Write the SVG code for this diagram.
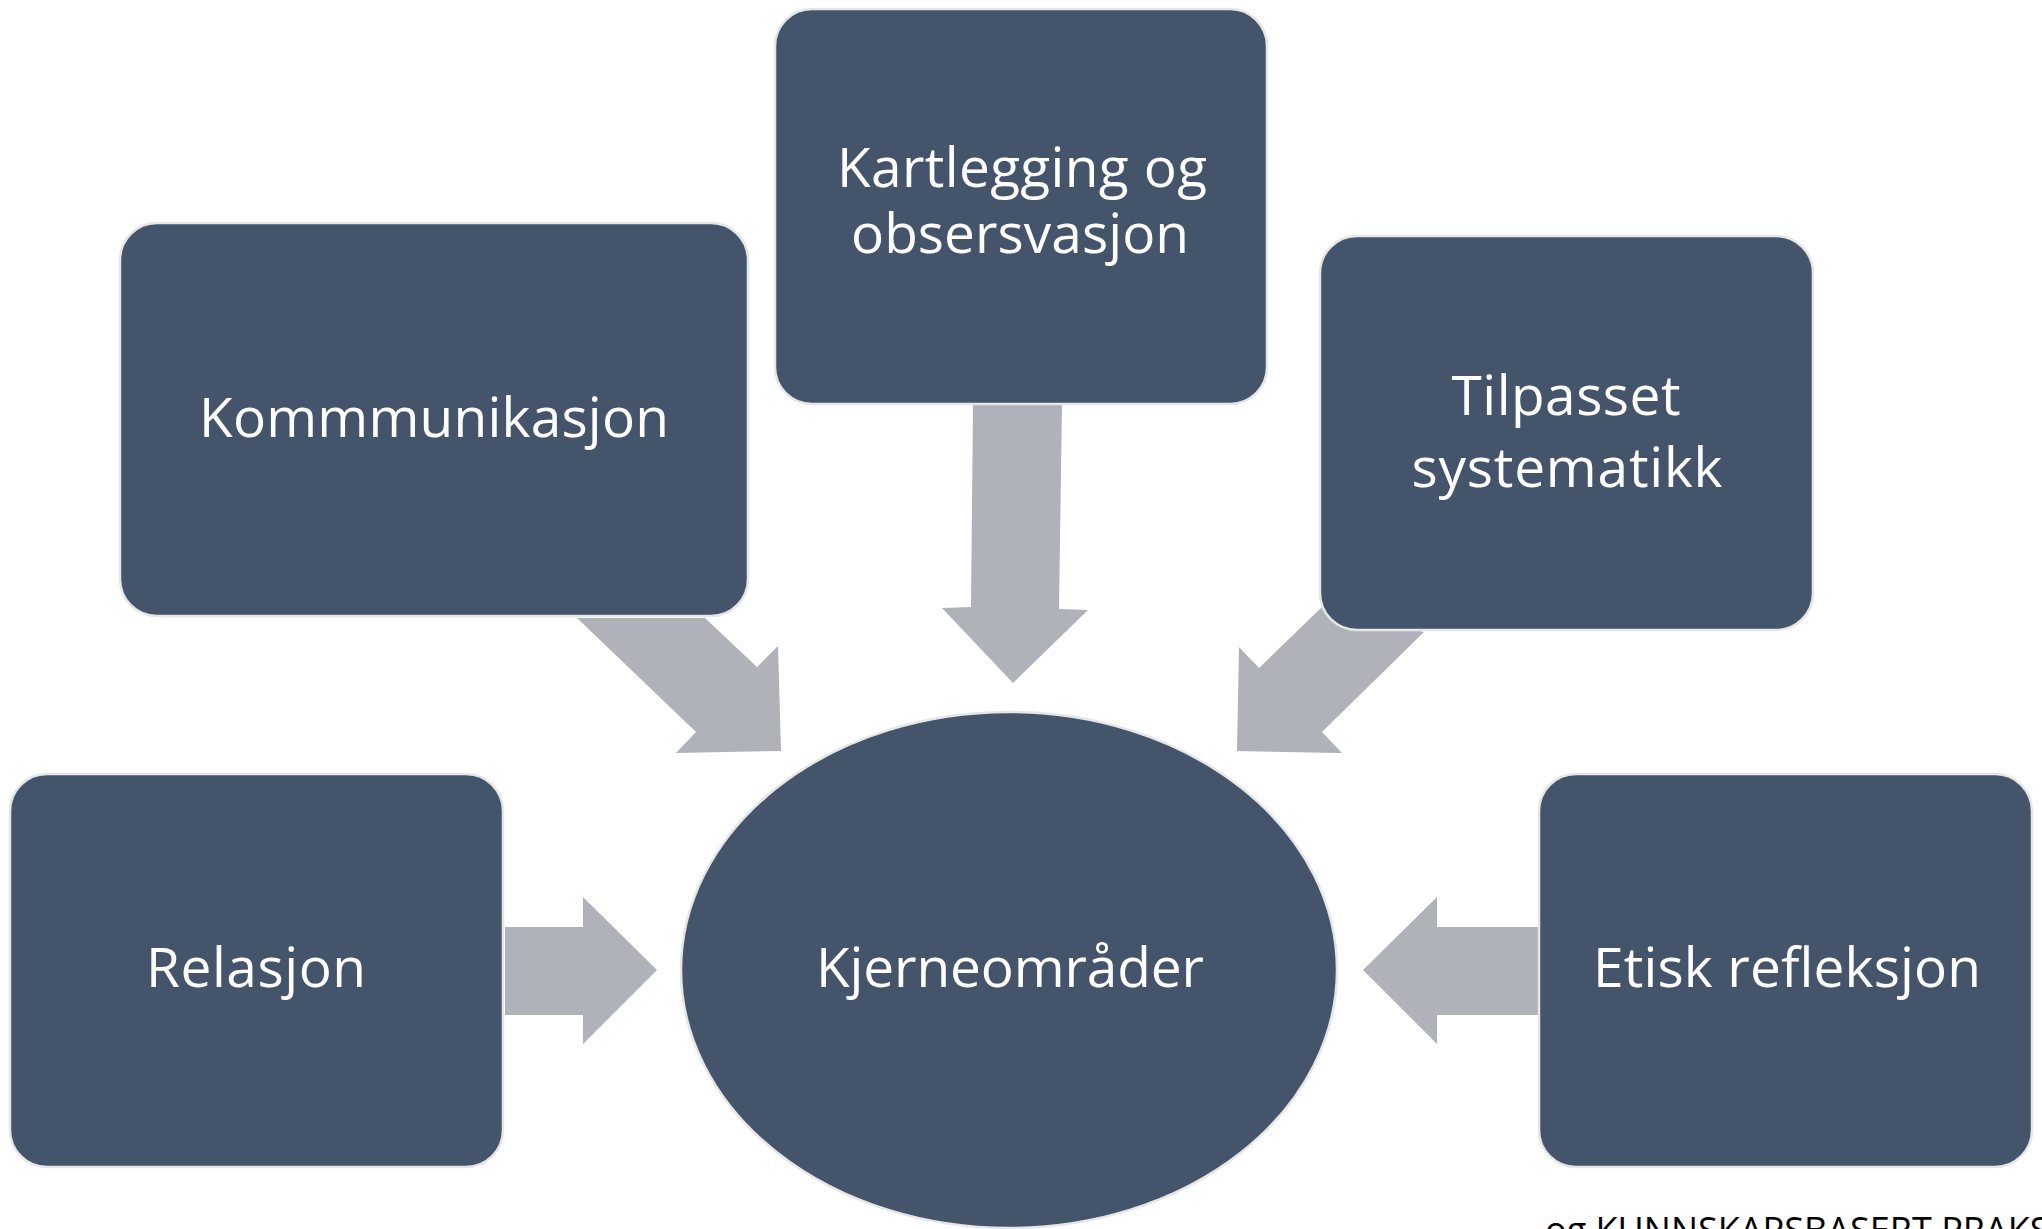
<svg xmlns="http://www.w3.org/2000/svg" width="2042" height="1229" viewBox="0 0 2042 1229">
<style>
.node{fill:#44546A;stroke:#E6E6E6;stroke-width:2.5}
.lbl{fill:#FFFFFF;font-family:"Open Sans","Liberation Sans",sans-serif;font-size:55px;text-anchor:middle}
.arr{fill:#AFB2B9;stroke:none}
.note{fill:#000000;font-family:"Open Sans","Liberation Sans",sans-serif;font-size:36px}
</style>
<rect width="2042" height="1229" fill="#FFFFFF"/>
<g id="connectors">
<polygon class="arr" points="505,927 583,927 583,897 657,970 583,1044 583,1015 505,1015"/>
<polygon class="arr" points="1538,927 1437,927 1437,897 1363,970 1437,1044 1437,1015 1538,1015"/>
<polygon class="arr" points="973,404 1062,404 1059,609 1088,610 1013,683 942,608 971,607"/>
<polygon class="arr" points="577,618 705,618 757,667 778,646 781,751 676,753 696,732"/>
<polygon class="arr" points="1321,608 1424,632 1322,732 1342,753 1237,751 1239,647 1259,668"/>
</g>
<g id="node-kartlegging">
<rect class="node" x="775" y="9" width="492" height="395" rx="37"/>
<text class="lbl" x="1022" y="187" textLength="370" lengthAdjust="spacing">Kartlegging og</text>
<text class="lbl" x="1020" y="253" textLength="338" lengthAdjust="spacing">obsersvasjon</text>
</g>
<g id="node-kommunikasjon">
<rect class="node" x="120" y="223" width="628" height="393" rx="37"/>
<text class="lbl" x="434" y="437" textLength="470" lengthAdjust="spacing">Kommmunikasjon</text>
</g>
<g id="node-tilpasset">
<rect class="node" x="1320" y="236" width="493" height="394" rx="37"/>
<text class="lbl" x="1566" y="415" textLength="229" lengthAdjust="spacing">Tilpasset</text>
<text class="lbl" x="1567" y="487" textLength="311" lengthAdjust="spacing">systematikk</text>
</g>
<g id="node-relasjon">
<rect class="node" x="10" y="774" width="493" height="393" rx="37"/>
<text class="lbl" x="256" y="987" textLength="220" lengthAdjust="spacing">Relasjon</text>
</g>
<g id="node-etisk">
<rect class="node" x="1539" y="774" width="493" height="393" rx="37"/>
<text class="lbl" x="1787" y="987" textLength="388" lengthAdjust="spacing">Etisk refleksjon</text>
</g>
<g id="node-kjerneomrader">
<ellipse class="node" cx="1009" cy="970" rx="328" ry="258"/>
<text class="lbl" x="1010" y="987" textLength="388" lengthAdjust="spacing">Kjerneområder</text>
</g>
<text class="note" x="1545" y="1243">og KUNNSKAPSBASERT PRAKSIS</text>
</svg>
